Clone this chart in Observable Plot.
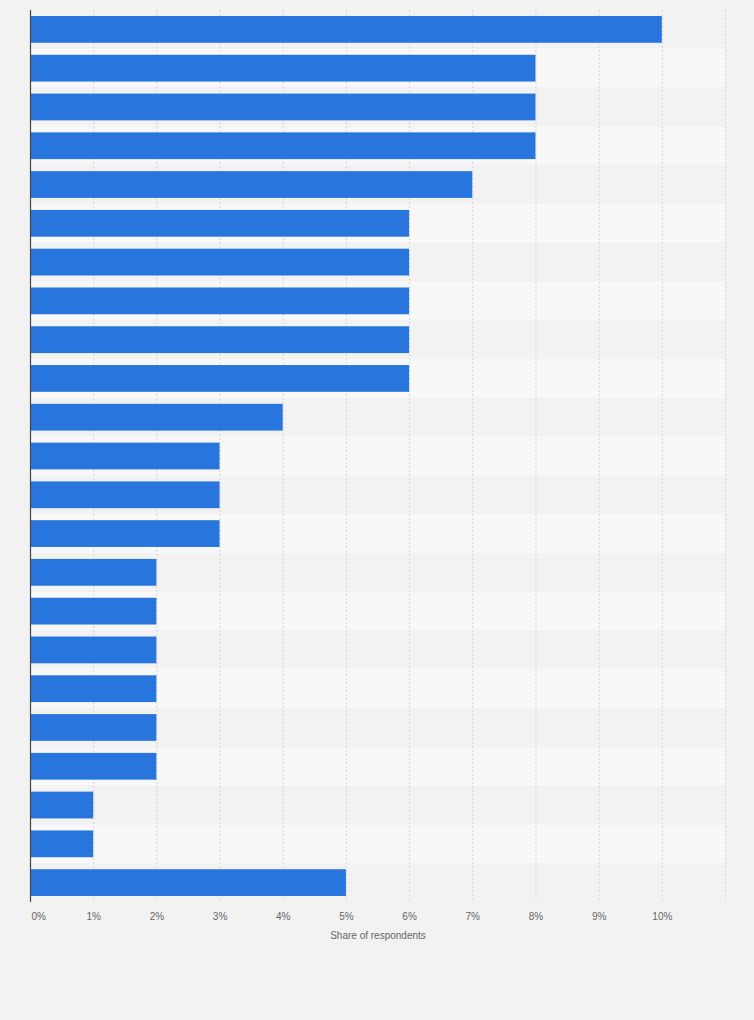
<!DOCTYPE html>
<html>
<head>
<meta charset="utf-8">
<script src="https://cdn.jsdelivr.net/npm/d3@7"></script>
<script src="https://cdn.jsdelivr.net/npm/@observablehq/plot@0.6"></script>
<style>
  html, body { margin: 0; padding: 0; background: #f2f2f2; }
  #chart svg { display: block; background: transparent; }
</style>
</head>
<body>
<div id="chart"></div>
<script>
// Categories (no labels are shown in the reference; rows numbered top to bottom)
const categories = ["1","2","3","4","5","6","7","8","9","10","11","12","13","14","15","16","17","18","19","20","21","22","23"];
// Share of respondents (%)
const values = [10, 8, 8, 8, 7, 6, 6, 6, 6, 6, 4, 3, 3, 3, 2, 2, 2, 2, 2, 2, 1, 1, 5];
const tickValues = [0,1,2,3,4,5,6,7,8,9,10];
const gridValues = [0,1,2,3,4,5,6,7,8,9,10,11];
const axisTitle = "Share of respondents";

const data = categories.map((c, i) => ({category: c, value: values[i], idx: i}));

const chart = Plot.plot({
  width: 754,
  height: 1020,
  marginLeft: 30,
  marginRight: 29,
  marginTop: 10,
  marginBottom: 118,
  style: {fontFamily: "'Liberation Sans', Arial, sans-serif", fontSize: "10px", background: "transparent"},
  x: {domain: [0, 11]},
  y: {domain: categories, padding: 0, round: false, axis: null},
  marks: [
    Plot.barX(data, {y: "category", x1: 0, x2: 11, fill: d => d.idx % 2 === 0 ? "#f2f2f2" : "#f8f8f8", inset: 0}),
    Plot.gridX(gridValues, {stroke: "#d4d4d4", strokeOpacity: 1, strokeDasharray: "2,2"}),
    Plot.barX(data, {y: "category", x: "value", fill: "#2876dd", insetTop: 6, insetBottom: 6}),
    Plot.ruleX([0], {stroke: "#444", strokeWidth: 1.2}),
    Plot.axisX(tickValues.slice(0, 1), {
      tickSize: 0, tickPadding: 10, tickFormat: d => d + "%",
      fill: "#666", fontSize: 10, textAnchor: "start", dx: 1, label: null
    }),
    Plot.axisX(tickValues.slice(1), {
      tickSize: 0, tickPadding: 10, tickFormat: d => d + "%",
      fill: "#666", fontSize: 10,
      label: axisTitle, labelAnchor: "center", labelArrow: "none", labelOffset: 36
    })
  ]
});
document.getElementById("chart").append(chart);
</script>
</body>
</html>
